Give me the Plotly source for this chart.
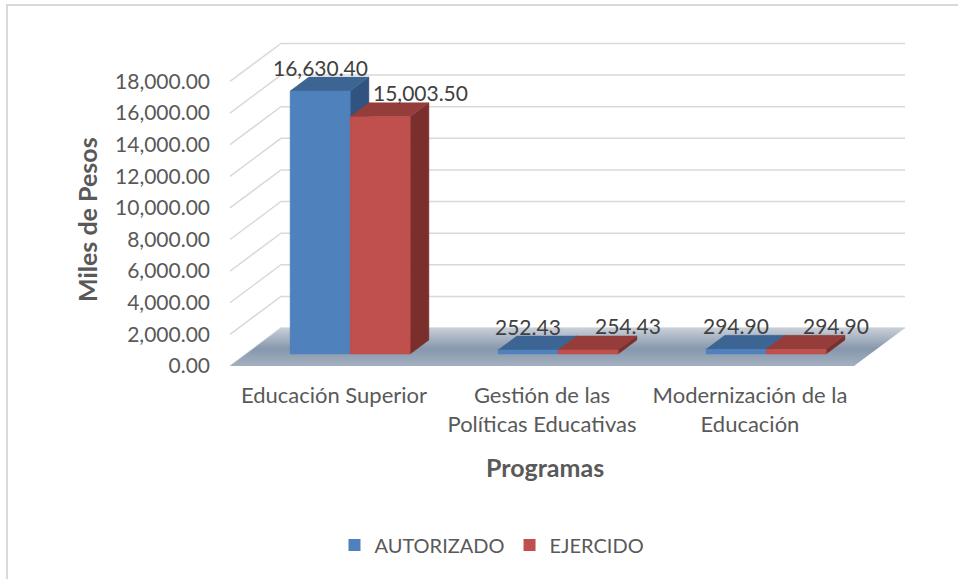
import plotly.graph_objects as go

# ---------------- data ----------------
categories = ["Educación Superior",
              "Gestión de las<br>Políticas Educativas",
              "Modernización de la<br>Educación"]
autorizado = [16630.40, 252.43, 294.90]
ejercido = [15003.50, 254.43, 294.90]
series_names = ["AUTORIZADO", "EJERCIDO"]
tick_values = [0, 2000, 4000, 6000, 8000, 10000, 12000, 14000, 16000, 18000]

# ---------------- styling / 3D geometry ----------------
BW = 0.2885          # bar width (category units)
DX = 0.2452          # full-depth x offset (category units)
DY = 2403.5          # full-depth y offset (data units)
Z0, Z1 = 0.316, 0.684  # bar front / back depth
front_colors = ["#4f81bd", "#c0504d"]
top_colors = ["#3d6593", "#953d3b"]
side_colors = ["#30537f", "#7b2f2d"]
text_color = "#595959"
label_color = "#404040"
FONT = "Lato"

fig = go.Figure()

# back wall gridlines + diagonals
gx, gy = [], []
for v in tick_values:
    gx += [-0.5, -0.5 + DX, 2.5 + DX, None]
    gy += [v, v + DY, v + DY, None]
fig.add_trace(go.Scatter(x=gx, y=gy, mode="lines",
                         line=dict(color="#d9d9d9", width=1.5),
                         hoverinfo="skip", showlegend=False))

# floor
fig.add_trace(go.Scatter(
    x=[-0.5, 2.5, 2.5 + DX, -0.5 + DX, -0.5],
    y=[0, 0, DY, DY, 0],
    mode="lines", fill="toself", line=dict(width=0, color="#8f9fb3"),
    fillgradient=dict(type="vertical",
                      colorscale=[[0, "#a3b0c0"], [0.45, "#8797ac"], [1, "#c8cfd8"]]),
    hoverinfo="skip", showlegend=False))

series = [autorizado, ejercido]
bx = (Z1 - Z0) * DX
by = (Z1 - Z0) * DY
annotations = []
for s, vals in enumerate(series):
    side_x, side_y, top_x, top_y, fr_x, fr_y = [], [], [], [], [], []
    for i, v in enumerate(vals):
        xl = i - BW + s * BW + Z0 * DX
        xr = xl + BW
        y0 = Z0 * DY
        y1 = v + Z0 * DY
        side_x += [xr, xr + bx, xr + bx, xr, xr, None]
        side_y += [y0, y0 + by, y1 + by, y1, y0, None]
        top_x += [xl, xr, xr + bx, xl + bx, xl, None]
        top_y += [y1, y1, y1 + by, y1 + by, y1, None]
        fr_x += [xl, xr, xr, xl, xl, None]
        fr_y += [y0, y0, y1, y1, y0, None]
        annotations.append(dict(
            x=(xl + xr) / 2, y=y1, xref="x", yref="y",
            text=f"{v:,.2f}", showarrow=False,
            xshift=40 if s == 1 else 0, yshift=24,
            font=dict(family=FONT, size=21, color=label_color)))
    for xs, ys, col in [(side_x, side_y, side_colors[s]),
                        (top_x, top_y, top_colors[s]),
                        (fr_x, fr_y, front_colors[s])]:
        fig.add_trace(go.Scatter(x=xs, y=ys, mode="lines", fill="toself",
                                 fillcolor=col, line=dict(color=col, width=0.5),
                                 hoverinfo="skip", showlegend=False))

# legend entries
for s, name in enumerate(series_names):
    fig.add_trace(go.Scatter(x=[None], y=[None], mode="markers", name=name,
                             marker=dict(symbol="square", size=12,
                                         color=front_colors[s])))

# titles
annotations.append(dict(x=(87 - 228) / 702, y=(380 - 220) / 360,
                        xref="paper", yref="paper", text="<b>Miles de Pesos</b>",
                        textangle=-90, showarrow=False,
                        xanchor="center", yanchor="middle",
                        font=dict(family=FONT, size=25, color=text_color)))
annotations.append(dict(x=(545 - 228) / 702, y=(380 - 467) / 360,
                        xref="paper", yref="paper", text="<b>Programas</b>",
                        showarrow=False, xanchor="center", yanchor="middle",
                        font=dict(family=FONT, size=25, color=text_color)))

fig.update_layout(
    width=958, height=579,
    margin=dict(l=228, r=28, t=20, b=199),
    paper_bgcolor="white", plot_bgcolor="white",
    hovermode=False,
    annotations=annotations,
    showlegend=True,
    legend=dict(orientation="h", x=(492 - 228) / 702, xanchor="center",
                y=(380 - 545) / 360, yanchor="middle",
                font=dict(family=FONT, size=20, color=text_color)),
    xaxis=dict(range=[-0.5096, 2.8654], tickvals=[0, 1, 2], ticktext=categories,
               showgrid=False, zeroline=False, showline=False, ticks="",
               fixedrange=True,
               tickfont=dict(family=FONT, size=22, color=text_color)),
    yaxis=dict(range=[-885.5, 21885], tickvals=tick_values, tickformat=",.2f",
               showgrid=False, zeroline=False, showline=False, ticks="",
               ticklabelstandoff=17, fixedrange=True,
               tickfont=dict(family=FONT, size=21, color=text_color)),
    shapes=[dict(type="rect", xref="paper", yref="paper",
                 x0=(7 - 228) / 702, x1=(975 - 228) / 702,
                 y0=(380 - 5) / 360, y1=(380 - 600) / 360,
                 line=dict(color="#d9d9d9", width=2), layer="below")],
)

fig.write_html("out.html", config={"displayModeBar": False},
               post_script="document.body.style.margin='0';")
